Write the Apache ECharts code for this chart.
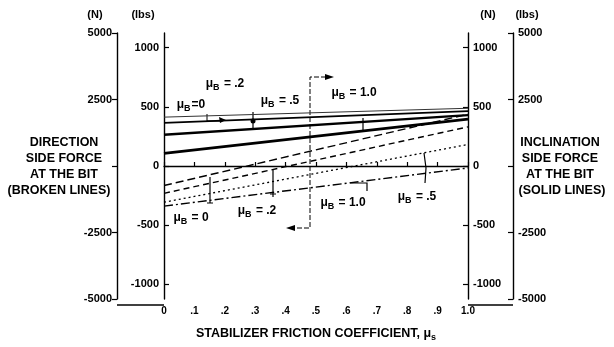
<!DOCTYPE html>
<html>
<head>
<meta charset="utf-8">
<script src="https://cdn.jsdelivr.net/npm/echarts@6/dist/echarts.min.js"></script>
<style>
  html, body { margin: 0; padding: 0; background: #fff; }
  #chart { width: 614px; height: 347px; }
</style>
</head>
<body>
<div id="chart"></div>
<script>
// stabilizer friction coefficient (x)
var MU_S = [0, 1.0];

// inclination side force, solid lines (lbs)
var INCL_B0  = [413, 488];
var INCL_B02 = [364, 463];
var INCL_B05 = [264, 430];
var INCL_B10 = [107, 397];

// direction side force, broken lines (lbs)
var DIR_A = [-165, 438];
var DIR_B = [-231, 331];
var DIR_C = [-306, 182];
var DIR_D = [-339, -17];

// tick labels
var LBS_TICKS = [-1000, -500, 0, 500, 1000];
var N_PER_LB = 4.44822;
var LBS_MAX = 5000 / N_PER_LB;

var FONT = 'Liberation Sans, Arial, sans-serif';

var chart = echarts.init(document.getElementById('chart'));

function pts(vals) {
    var res = [];
    for (var i = 0; i < MU_S.length; i++) {
        res.push([MU_S[i], vals[i]]);
    }
    return res;
}

function line(name, vals, width, type, color) {
    return {
        name: name,
        type: 'line',
        data: pts(vals),
        symbol: 'none',
        silent: true,
        lineStyle: { color: color || '#000', width: width, type: type }
    };
}

var axisLine = { show: true, lineStyle: { color: '#000', width: 1.4 } };
var labelStyle = { color: '#000', fontFamily: FONT, fontWeight: 'bold', fontSize: 11 };

function lbsAxis(pos) {
    return {
        type: 'value', position: pos, min: -LBS_MAX, max: LBS_MAX,
        axisLine: axisLine,
        axisTick: { show: true, inside: true, length: 5, customValues: LBS_TICKS,
                    lineStyle: { color: '#000', width: 1.2 } },
        axisLabel: Object.assign({
            customValues: LBS_TICKS, margin: 5,
            formatter: function (v) { return String(Math.round(v)); }
        }, labelStyle),
        splitLine: { show: false }
    };
}

function nAxis(pos, offset, inside) {
    return {
        type: 'value', position: pos, offset: offset, min: -5000, max: 5000, interval: 2500,
        axisLine: axisLine,
        axisTick: { show: true, inside: inside, length: 5, lineStyle: { color: '#000', width: 1.2 } },
        axisLabel: Object.assign({
            margin: 5,
            formatter: function (v) { return v === 0 ? '' : String(v); }
        }, labelStyle),
        splitLine: { show: false }
    };
}

function txt(x, y, s, size, align) {
    return {
        type: 'text', x: x, y: y, silent: true,
        style: {
            text: s, fill: '#000', font: 'bold ' + (size || 12) + 'px ' + FONT,
            align: align || 'center', verticalAlign: 'middle'
        }
    };
}

function muLabel(x, y, val, eqSpace) {
    var eq = eqSpace ? ' = ' : '=';
    return {
        type: 'text', x: x, y: y, silent: true,
        style: {
            text: '{m|\u03bc}{s|B}{m|' + eq + val + '}',
            align: 'center', verticalAlign: 'middle',
            rich: {
                m: { fontFamily: FONT, fontWeight: 'bold', fontSize: 12, fill: '#000' },
                s: { fontFamily: FONT, fontWeight: 'bold', fontSize: 9, fill: '#000', padding: [7, 1, 0, 0] }
            }
        }
    };
}

function seg(points, width, dash) {
    return {
        type: 'polyline', silent: true,
        shape: { points: points },
        style: { stroke: '#000', lineWidth: width || 1, fill: null, lineDash: dash || null }
    };
}

function arrow(points) {
    return { type: 'polygon', silent: true, shape: { points: points }, style: { fill: '#000' } };
}

var option = {
    backgroundColor: '#fff',
    animation: false,
    grid: { left: 164, right: 146, top: 33, bottom: 42 },
    xAxis: {
        type: 'value', min: 0, max: 1, interval: 0.1,
        axisLine: axisLine,
        axisTick: { show: true, inside: true, length: 4, lineStyle: { color: '#000', width: 1.2 } },
        axisLabel: Object.assign({
            margin: 7,
            formatter: function (v) {
                if (v === 0) return '0';
                if (Math.abs(v - 1) < 1e-9) return '1.0';
                return '.' + Math.round(v * 10);
            }
        }, labelStyle, { fontSize: 10 }),
        splitLine: { show: false },
        name: '{t|STABILIZER FRICTION COEFFICIENT, \u03bc}{s|s}',
        nameLocation: 'middle',
        nameGap: 27,
        nameTextStyle: {
            rich: {
                t: { fontFamily: FONT, fontWeight: 'bold', fontSize: 12.5, color: '#000' },
                s: { fontFamily: FONT, fontWeight: 'bold', fontSize: 9, color: '#000', padding: [7, 0, 0, 0] }
            }
        }
    },
    yAxis: [
        lbsAxis('left'),
        nAxis('left', 47, false),
        lbsAxis('right'),
        nAxis('right', 45, true)
    ],
    series: [
        line('incl mu_B=0', INCL_B0, 1, 'solid', '#333'),
        line('incl mu_B=.2', INCL_B02, 1.8, 'solid'),
        line('incl mu_B=.5', INCL_B05, 2.4, 'solid'),
        line('incl mu_B=1.0', INCL_B10, 2.8, 'solid'),
        line('dir A', DIR_A, 1.4, [8, 4]),
        line('dir B', DIR_B, 1.4, [6, 4]),
        line('dir C', DIR_C, 1.3, [2, 3]),
        line('dir D', DIR_D, 1.4, [9, 3, 2, 3])
    ],
    graphic: [
        // bottom frame between inner and outer axes
        seg([[117, 305], [164, 305]], 1.4),
        seg([[468, 305], [513, 305]], 1.4),
        // axis headers
        txt(95, 15, '(N)', 11),
        txt(143, 15, '(lbs)', 11),
        txt(488, 15, '(N)', 11),
        txt(527, 15, '(lbs)', 11),
        // side titles
        txt(64, 143, 'DIRECTION', 12.5),
        txt(64, 159, 'SIDE FORCE', 12.5),
        txt(64, 175, 'AT THE BIT', 12.5),
        txt(59, 191, '(BROKEN LINES)', 12.5),
        txt(560, 143, 'INCLINATION', 12.5),
        txt(560, 159, 'SIDE FORCE', 12.5),
        txt(560, 175, 'AT THE BIT', 12.5),
        txt(562, 191, '(SOLID LINES)', 12.5),
        // mu_B labels, top group
        muLabel(225, 84, '.2', true),
        muLabel(191, 105, '0', false),
        muLabel(280, 101, '.5', true),
        muLabel(354, 93, '1.0', true),
        // mu_B labels, bottom group
        muLabel(191, 218, '0', true),
        muLabel(257, 211, '.2', true),
        muLabel(343, 203, '1.0', true),
        muLabel(417, 197, '.5', true),
        // region bracket
        seg([[326, 77], [310, 77], [310, 228], [294, 228]], 1, [5, 2]),
        arrow([[334, 77], [325, 74], [325, 80]]),
        arrow([[286, 228], [295, 225], [295, 231]]),
        // pointers on the lines
        seg([[207, 114], [207, 121], [222, 121]], 1),
        arrow([[226, 120], [219, 117], [220, 123]]),
        seg([[253, 112], [253, 128]], 1.2),
        { type: 'circle', silent: true, shape: { cx: 253, cy: 121, r: 2.5 }, style: { fill: '#000' } },
        seg([[363, 118], [363, 131]], 1.2),
        seg([[210, 177], [210, 203]], 1.2),
        seg([[207, 203], [213, 203]], 1),
        seg([[273, 170], [273, 197]], 1.2),
        seg([[270, 194], [276, 194]], 1),
        seg([[350, 183], [367, 183], [367, 191]], 1.2),
        seg([[424, 153], [426, 168], [425, 183]], 1.2)
    ]
};

chart.setOption(option);
</script>
</body>
</html>
